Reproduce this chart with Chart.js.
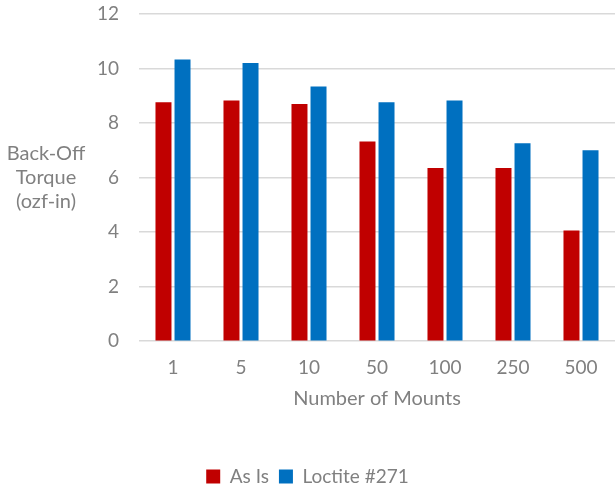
<!DOCTYPE html>
<html>
<head>
<meta charset="utf-8">
<script src="https://cdn.jsdelivr.net/npm/chart.js@4"></script>
<style>
    html, body { margin: 0; padding: 0; background: #fff; }
    #wrap { width: 615px; height: 488px; position: relative; }
</style>
</head>
<body>
<div id="wrap"><canvas id="torqueChart"></canvas></div>
<script>
const mounts = ['1', '5', '10', '50', '100', '250', '500'];
const asIs = [8.76, 8.83, 8.70, 7.32, 6.35, 6.35, 4.06];
const loctite = [10.33, 10.20, 9.34, 8.76, 8.83, 7.26, 7.00];
const yTitleLines = ['Back-Off', 'Torque', '(ozf-in)'];

const textGrey = '#808080';
const fontFamily = 'Lato, "Open Sans", sans-serif';

// y title is drawn flat on the left, like the original
const yTitlePlugin = {
    id: 'yTitle',
    afterDraw(chart) {
        const c = chart.ctx;
        const mid = (chart.chartArea.top + chart.chartArea.bottom) / 2;
        c.save();
        c.fillStyle = textGrey;
        c.font = '20px ' + fontFamily;
        c.textAlign = 'center';
        c.textBaseline = 'middle';
        yTitleLines.forEach((line, i) => {
            c.fillText(line, 46, mid + (i - 1) * 24);
        });
        c.restore();
    }
};

new Chart(document.getElementById('torqueChart'), {
    type: 'bar',
    data: {
        labels: mounts,
        datasets: [
            { label: 'As Is', data: asIs, backgroundColor: '#C00000' },
            { label: 'Loctite #271', data: loctite, backgroundColor: '#0070C0' }
        ]
    },
    options: {
        responsive: true,
        maintainAspectRatio: false,
        animation: false,
        layout: { autoPadding: false, padding: { top: 14, left: 0, right: 0, bottom: -8 } },
        datasets: { bar: { categoryPercentage: 0.56, barPercentage: 0.84 } },
        plugins: {
            legend: {
                position: 'bottom',
                labels: {
                    color: textGrey,
                    font: { size: 19, family: fontFamily },
                    boxWidth: 14,
                    boxHeight: 14,
                    padding: 10
                }
            },
            tooltip: { enabled: false }
        },
        scales: {
            x: {
                grid: { display: false, drawTicks: false },
                border: { display: false },
                ticks: { color: textGrey, font: { size: 19, family: fontFamily }, padding: 15 },
                title: {
                    display: true,
                    text: 'Number of Mounts',
                    color: textGrey,
                    font: { size: 20, family: fontFamily },
                    padding: { top: -7, bottom: 46 }
                }
            },
            y: {
                min: 0,
                max: 12,
                afterFit: (s) => { s.width = 139; s.paddingTop = 0; s.paddingBottom = 0; },
                grid: { color: '#d9d9d9', lineWidth: 1.5, drawTicks: false },
                border: { display: false },
                ticks: { stepSize: 2, color: textGrey, font: { size: 19, family: fontFamily }, padding: 20 }
            }
        }
    },
    plugins: [yTitlePlugin]
});
</script>
</body>
</html>
